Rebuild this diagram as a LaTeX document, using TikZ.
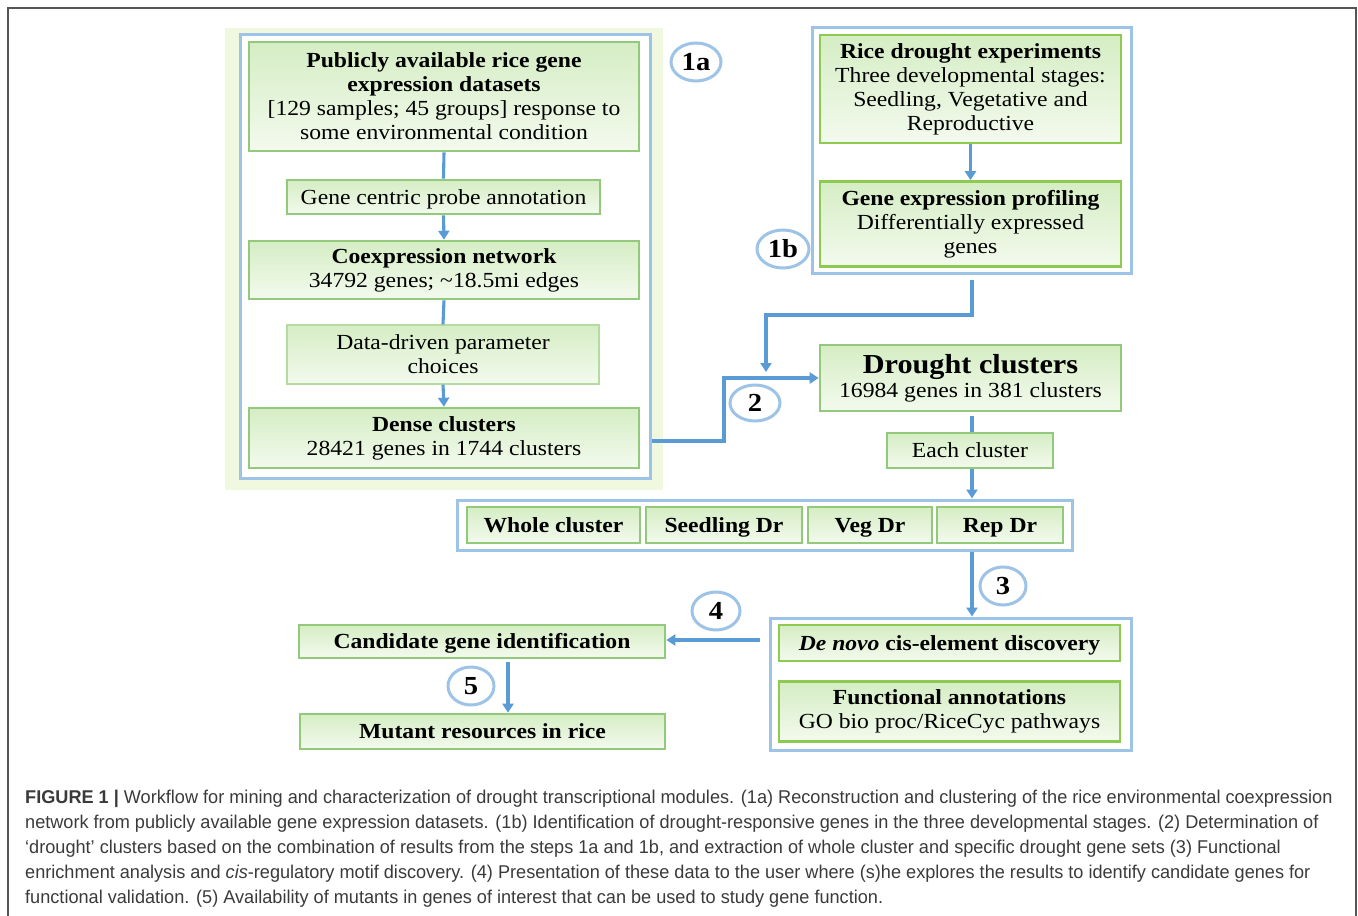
\documentclass[tikz,border=0pt]{standalone}
\usepackage{fontspec}
\setmainfont{Liberation Serif}[FakeStretch=1.1]
\newfontfamily\capfont{Liberation Sans}[FakeStretch=0.98]
\usetikzlibrary{arrows.meta,shapes.geometric}
\definecolor{ablue}{HTML}{5B9BD5}
\definecolor{lblue}{HTML}{9DC3E6}
\definecolor{gborder}{HTML}{93C97A}
\definecolor{gbright}{HTML}{8CCB4F}
\definecolor{glight}{HTML}{B5DCA0}
\definecolor{gtop}{HTML}{D5EDC4}
\definecolor{gbot}{HTML}{F3FAEE}
\definecolor{bgone}{HTML}{F0F8DF}
\definecolor{captxt}{HTML}{3A3A3A}
\definecolor{framec}{HTML}{555555}
\tikzset{
  gbox/.style={draw=gborder, line width=2.6pt, top color=gtop, bottom color=gbot,
    inner sep=0pt, align=center, font=\fontsize{21.5}{24}\selectfont},
  gboxb/.style={gbox, draw=gbright},
  gboxl/.style={gbox, draw=glight, line width=1.4pt},
  oneline/.style={text height=14pt, text depth=0pt},
  bluebox/.style={draw=lblue, line width=3pt, inner sep=0pt},
  circ/.style={ellipse, draw=lblue, line width=3pt, fill=white, inner sep=0pt,
    font=\fontsize{26}{26}\selectfont\bfseries},
  conn/.style={draw=ablue, line width=3.1pt},
  arr/.style={conn, -{Triangle[width=11pt,length=9pt]}},
  capline/.style={anchor=west, inner sep=0pt, text=captxt,
    font=\capfont\fontsize{18.5}{20}\selectfont},
}
\begin{document}
\begin{tikzpicture}[x=1pt,y=-1pt]
\useasboundingbox (0,0) rectangle (1358,916);
\draw[framec, line width=2pt] (8,925) -- (8,8) -- (1356,8) -- (1356,925);
% stage 1a
\fill[bgone] (225,28) rectangle (663,490);
\fill[white] (240,34) rectangle (650,478);
\node[bluebox, minimum width=410pt, minimum height=444pt] (B1a) at (445,256) {};
\node[gbox, minimum width=390pt, minimum height=109pt] (A) at (444,96.5)
  {\textbf{Publicly available rice gene}\\\textbf{expression datasets}\\{}[129 samples; 45 groups] response to\\some environmental condition};
\node[gbox, oneline, minimum width=313pt, minimum height=34pt] (B) at (443.5,197) {Gene centric probe annotation};
\node[gbox, minimum width=390pt, minimum height=58pt] (C) at (444,270)
  {\textbf{Coexpression network}\\34792 genes; \textasciitilde18.5mi edges};
\node[gboxl, minimum width=312pt, minimum height=59pt] (D) at (443,354.5)
  {Data-driven parameter\\choices};
\node[gbox, minimum width=390pt, minimum height=60pt] (E) at (444,438)
  {\textbf{Dense clusters}\\28421 genes in 1744 clusters};
\node[circ, minimum width=50pt, minimum height=38pt] (c1a) at (696,62) {1a};
\draw[conn] (A.south) -- (B.north);
\draw[arr] (B.south) -- (C.north);
\draw[conn] (C.south) -- (D.north);
\draw[arr] (D.south) -- (E.north);
% stage 1b
\node[bluebox, minimum width=319pt, minimum height=246pt] (B1b) at (971.5,150) {};
\node[gboxb, minimum width=301pt, minimum height=108pt] (F) at (970.5,89)
  {\textbf{Rice drought experiments}\\Three developmental stages:\\Seedling, Vegetative and\\Reproductive};
\node[gboxb, minimum width=301pt, minimum height=85pt] (G) at (970.5,224)
  {\textbf{Gene expression profiling}\\Differentially expressed\\genes};
\node[circ, minimum width=52pt, minimum height=38pt] (c1b) at (783,249) {1b};
\draw[arr] (F.south) -- (G.north);
% stage 2
\node[gbox, minimum width=301pt, minimum height=66pt] (Dr) at (970.5,378)
  {{\fontsize{27.5}{30}\selectfont\textbf{Drought clusters}}\\16984 genes in 381 clusters};
\node[gbox, oneline, minimum width=166pt, minimum height=35pt] (Ea) at (970,450.5) {Each cluster};
\coordinate (s1b) at (972,280);
\coordinate (h1b) at (972,315);
\coordinate (m) at (766,372);
\draw[arr] (s1b) -- (h1b) -| (m);
\coordinate (k1) at (724,441);
\draw[arr] (B1a.east |- k1) -- (k1) |- (Dr.west);
\node[circ, minimum width=50pt, minimum height=36pt] (c2) at (755,403) {2};
\coordinate (s2) at (972,416);
\draw[conn] (s2) -- (Ea.north -| s2);
% row
\node[bluebox, minimum width=615pt, minimum height=50pt] (Row) at (764.5,525) {};
\node[gbox, oneline, minimum width=173pt, minimum height=36pt] (W) at (553.5,525) {\textbf{Whole cluster}};
\node[gbox, oneline, minimum width=156pt, minimum height=36pt] (S) at (724,525) {\textbf{Seedling Dr}};
\node[gbox, oneline, minimum width=124pt, minimum height=36pt] (V) at (870,525) {\textbf{Veg Dr}};
\node[gbox, oneline, minimum width=126pt, minimum height=36pt] (R) at (1000,525) {\textbf{Rep Dr}};
\draw[arr] (Ea.south -| s2) -- (Row.north -| s2);
% stage 3
\node[bluebox, minimum width=361pt, minimum height=132pt] (B3) at (950.5,684) {};
\node[gboxb, oneline, minimum width=341pt, minimum height=36pt] (DN) at (949.5,643)
  {\textbf{\textit{De novo} cis-element discovery}};
\node[gboxb, minimum width=341pt, minimum height=60pt] (FA) at (949.5,711.5)
  {\textbf{Functional annotations}\\GO bio proc/RiceCyc pathways};
\draw[arr] (Row.south -| s2) -- (B3.north -| s2);
\node[circ, minimum width=46pt, minimum height=38pt] (c3) at (1003,586) {3};
% stage 4, 5
\node[gbox, oneline, minimum width=366pt, minimum height=33pt] (Ca) at (482,641.5) {\textbf{Candidate gene identification}};
\node[gbox, oneline, minimum width=365pt, minimum height=35pt] (Mu) at (482.5,731.5) {\textbf{Mutant resources in rice}};
\coordinate (s4) at (760,640);
\draw[arr] (s4) -- (Ca.east |- s4);
\node[circ, minimum width=48pt, minimum height=38pt] (c4) at (716,611) {4};
\coordinate (s5) at (508,662);
\draw[arr] (s5) -- (Mu.north -| s5);
\node[circ, minimum width=46pt, minimum height=38pt] (c5) at (471,686) {5};
% caption
\node[capline] (L1) at (25,799) {\textbf{FIGURE 1 |} Workflow for mining and characterization of drought transcriptional modules. (1a) Reconstruction and clustering of the rice environmental coexpression};
\node[capline] (L2) at (25,824) {network from publicly available gene expression datasets. (1b) Identification of drought-responsive genes in the three developmental stages. (2) Determination of};
\node[capline] (L3) at (25,849) {‘drought’ clusters based on the combination of results from the steps 1a and 1b, and extraction of whole cluster and specific drought gene sets (3) Functional};
\node[capline] (L4) at (25,874) {enrichment analysis and \textit{cis}-regulatory motif discovery. (4) Presentation of these data to the user where (s)he explores the results to identify candidate genes for};
\node[capline] (L5) at (25,899) {functional validation. (5) Availability of mutants in genes of interest that can be used to study gene function.};
\end{tikzpicture}
\end{document}
